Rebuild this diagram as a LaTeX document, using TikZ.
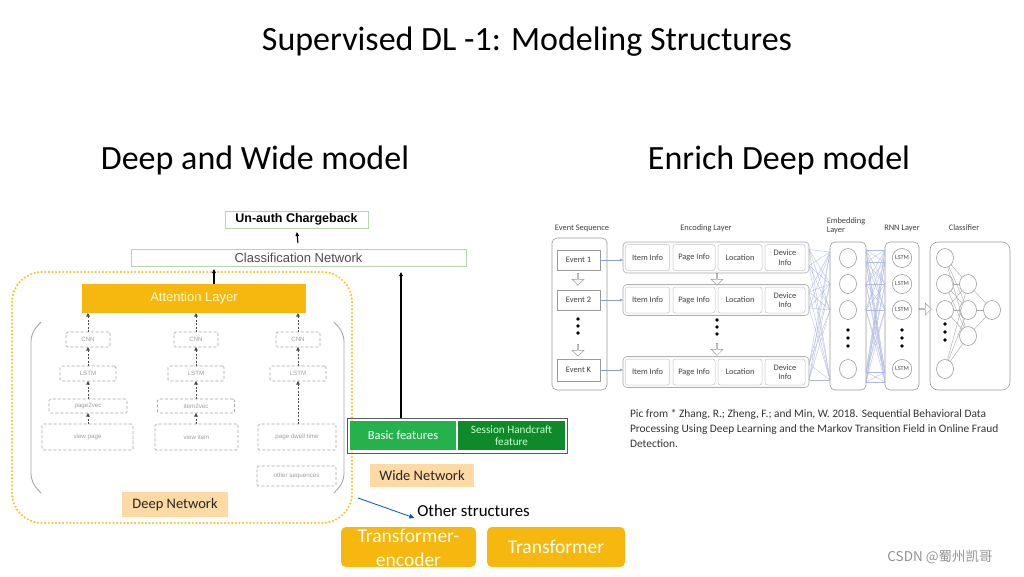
\documentclass[tikz,border=0pt]{standalone}
\usepackage{fontspec}
\setmainfont{Carlito}
\newfontfamily\arialish{Liberation Sans}
\newfontfamily\cjk{Noto Sans CJK SC}
\usetikzlibrary{arrows.meta,shapes.arrows,shapes.geometric,calc}
\definecolor{gold}{HTML}{F6B70F}
\definecolor{dotyel}{HTML}{F5C62A}
\definecolor{peach}{HTML}{FDD9A3}
\definecolor{lgreen}{HTML}{25B24C}
\definecolor{dgreen}{HTML}{0E8A2A}
\definecolor{boxgreen}{HTML}{B9D3AC}
\definecolor{netblue}{HTML}{8C9BD8}
\definecolor{rgray}{HTML}{9A9A9A}
\tikzset{
  fs/.style={font=\fontsize{#1}{#1}\selectfont},
  dbox/.style={draw=gray!70, dash pattern=on 3pt off 2pt, line width=0.7pt, rounded corners=1.5pt,
     font=\arialish\fontsize{6.2}{7}\selectfont, text=gray!75},
  darr/.style={draw=gray!60!black, dash pattern=on 2pt off 1.5pt, line width=0.7pt, -{Triangle[length=3.5pt,width=3.5pt]}},
  thickarr/.style={draw=black, line width=1.1pt, -{Triangle[length=4pt,width=3.5pt]}},
  lbl/.style={fill=peach, text=black!85, font=\fontsize{14.5}{15}\selectfont},
  tbox/.style={fill=gold, rounded corners=5pt, text=white!95!yellow, font=\fontsize{19.5}{24}\selectfont, align=center},
  ebox/.style={draw=rgray, line width=0.6pt, fill=white, font=\fontsize{8.4}{9}\selectfont, text=black!75, align=center},
  rowbox/.style={draw=rgray!80, line width=0.6pt, rounded corners=4pt, fill=gray!3},
  ibox/.style={draw=gray!45, line width=0.5pt, rounded corners=2.5pt, fill=white, font=\fontsize{8.4}{9.5}\selectfont, text=black!75, align=center, minimum height=26},
  colbox/.style={draw=rgray, line width=0.6pt, rounded corners=5pt},
  neuron/.style={ellipse, draw=rgray, line width=0.6pt, fill=white, minimum width=17, minimum height=19, font=\fontsize{6.2}{6.2}\selectfont, text=black!70},
  hdot/.style={circle, fill=black, minimum size=3.8},
  harrd/.style={single arrow, draw=rgray, fill=white, line width=0.5pt, minimum height=12, minimum width=12, single arrow head extend=2pt, shape border rotate=270},
  harrr/.style={single arrow, draw=rgray, fill=white, line width=0.5pt, minimum height=12, minimum width=12, single arrow head extend=2pt},
  web/.style={draw=netblue!70, line width=0.35pt},
  rlabel/.style={font=\fontsize{8.4}{9.5}\selectfont, text=black!75, align=center},
}
\begin{document}
\begin{tikzpicture}[x=1pt,y=-1pt, every node/.style={inner sep=0pt, outer sep=0pt}]
\useasboundingbox (0,0) rectangle (1024,576);
\fill[white] (0,0) rectangle (1024,576);

% Titles
\node[fs=34] (title) at (527,42) {Supervised DL -1: Modeling Structures};
\node[fs=34] (hl) at (255,160) {Deep and Wide model};
\node[fs=34] (hr) at (779,160) {Enrich Deep model};

% ===== Deep and Wide =====
\node[draw=boxgreen, line width=0.8pt, minimum width=143, minimum height=17, inner xsep=4pt, font=\arialish\bfseries\fontsize{12.5}{13}\selectfont] (ua) at (296.5,219.5) {Un-auth Chargeback};
\node[draw=boxgreen, line width=0.8pt, minimum width=335, minimum height=17, font=\arialish\fontsize{13}{13}\selectfont, text=black!70] (cls) at (298.5,257.5) {Classification Network};
\draw[thickarr, shorten <=6pt, shorten >=4pt] (cls.north) -- (ua.south);

% dotted frame
\draw[dotyel, line width=2.4pt, line cap=round, dash pattern=on 0pt off 3.6pt, rounded corners=30pt] (12,272) rectangle (352,523);

\node[fill=gold, minimum width=224, minimum height=29, font=\arialish\fontsize{13}{13}\selectfont, text=white!80!yellow] (att) at (194,298.5) {Attention Layer};
\coordinate (ax) at (214,0);
\draw[thickarr, shorten >=3pt] (att.north -| ax) -- (cls.south -| ax);

% brackets
\draw[gray!70, line width=0.9pt, rounded corners=8pt] (41,322) -- (31,333) -- (31,482) -- (41,493);
\draw[gray!70, line width=0.9pt, rounded corners=8pt] (334,322) -- (344,333) -- (344,482) -- (334,493);

% column 1
\node[dbox, minimum width=44, minimum height=15] (cnn1) at (88,339.5) {CNN};
\node[dbox, minimum width=56, minimum height=15] (lstm1) at (88,373.5) {LSTM};
\node[dbox, minimum width=78, minimum height=14] (p2v) at (88,406) {page2vec};
\node[dbox, minimum width=91, minimum height=26] (vp) at (87.5,437) {view page};
% column 2
\node[dbox, minimum width=44, minimum height=15] (cnn2) at (196,339.5) {CNN};
\node[dbox, minimum width=56, minimum height=15] (lstm2) at (196,373.5) {LSTM};
\node[dbox, minimum width=77, minimum height=14] (i2v) at (196,406) {item2vec};
\node[dbox, minimum width=83, minimum height=26] (vi) at (196.5,437) {view item};
% column 3
\node[dbox, minimum width=44, minimum height=15] (cnn3) at (298,339.5) {CNN};
\node[dbox, minimum width=56, minimum height=15] (lstm3) at (298,373.5) {LSTM};
\node[dbox, minimum width=78, minimum height=26] (pdt) at (297,437) {page dwell time};
\node[dbox, minimum width=79, minimum height=20] (os) at (296.5,476) {other sequences};

\draw[darr] (vp.north -| p2v.south) -- (p2v.south);
\draw[darr] (p2v.north) -- (lstm1.south);
\draw[darr] (lstm1.north) -- (cnn1.south);
\draw[darr] (cnn1.north) -- (att.south -| cnn1.north);
\draw[darr] (vi.north -| i2v.south) -- (i2v.south);
\draw[darr] (i2v.north) -- (lstm2.south);
\draw[darr] (lstm2.north) -- (cnn2.south);
\draw[darr] (cnn2.north) -- (att.south -| cnn2.north);
\draw[darr] (pdt.north -| lstm3.south) -- (lstm3.south);
\draw[darr] (lstm3.north) -- (cnn3.south);
\draw[darr] (cnn3.north) -- (att.south -| cnn3.north);

\node[lbl, minimum width=106, minimum height=25] (dn) at (175,504.5) {Deep Network};

% wide part
\node[draw=gray!70!black, line width=0.8pt, minimum width=220, minimum height=35] (wb) at (457,435.5) {};
\node[fill=lgreen, minimum width=106, minimum height=29, text=white, font=\fontsize{12.5}{13}\selectfont] (bf) at (403,435.5) {Basic features};
\node[fill=dgreen, minimum width=107, minimum height=29, text=white!80!green, font=\fontsize{11.2}{11.5}\selectfont, align=center] (sh) at (511.5,435.5) {Session Handcraft\\feature};
\coordinate (wx) at (401,0);
\draw[thickarr, shorten >=6pt] (wb.north -| wx) -- (cls.south -| wx);

\node[lbl, minimum width=104, minimum height=23] (wn) at (422,475.5) {Wide Network};

\node[font=\fontsize{16.8}{17}\selectfont] (ot) at (473.5,511) {Other structures};
\coordinate (bs) at (358,498);
\draw[draw=blue!60!cyan!80!black, line width=0.8pt, -{Triangle[length=5pt,width=4.5pt]}] (bs) -- ($(ot.south west)+(-3,1)$);

\node[tbox, minimum width=135, minimum height=40] (te) at (408.5,547) {};
\node[text=white!95!yellow, font=\fontsize{19.5}{24}\selectfont, align=center] (tet) at (408.5,548) {Transformer-\\encoder};
\node[tbox, minimum width=138, minimum height=40] (tr) at (556,547) {Transformer};

% ===== Enrich Deep =====
\node[rlabel] (les) at (582,228) {Event Sequence};
\node[rlabel] (lel) at (706,228) {Encoding Layer};
\node[rlabel, align=left] (lem) at (846,226) {Embedding\\Layer};
\node[rlabel] (lrn) at (902,228) {RNN Layer};
\node[rlabel] (lcl) at (964,228) {Classifier};

\node[colbox, minimum width=55, minimum height=152] (es) at (579.5,314) {};
\node[ebox, minimum width=43, minimum height=20] (e1) at (578.5,260) {Event 1};
\node[ebox, minimum width=43, minimum height=20] (e2) at (578.5,300) {Event 2};
\node[ebox, minimum width=43, minimum height=22] (ek) at (578.5,370) {Event K};
\node[harrd] (ha1) at (578,279) {};
\node[hdot] (d1) at (578,319) {};
\node[hdot] (d2) at (578,326) {};
\node[hdot] (d3) at (578,333) {};
\node[harrd] (ha2) at (578,350) {};

% encoding rows
\foreach \r/\y in {1/257.5, 2/300, 3/372}{
  \node[rowbox, minimum width=186, minimum height=31] (row\r) at (716,\y) {};
  \node[ibox, minimum width=44] (it\r) at (647.5,\y) {Item Info};
  \node[ibox, minimum width=42] (pg\r) at (694,\y) {Page Info};
  \node[ibox, minimum width=44] (lo\r) at (740,\y) {Location};
  \node[ibox, minimum width=40] (dv\r) at (785,\y) {Device\\Info};
}
\node[harrd] (hb1) at (717,279) {};
\node[hdot] (f1) at (717,320) {};
\node[hdot] (f2) at (717,327) {};
\node[hdot] (f3) at (717,334) {};
\node[harrd] (hb2) at (717,349) {};

\foreach \e/\r in {e1/row1, e2/row2, ek/row3}{
  \draw[draw=netblue, line width=0.5pt, -{Triangle[length=3pt,width=2.5pt]}] (\e.east) -- (\e.east -| \r.west);
}

% embedding layer
\node[colbox, minimum width=36, minimum height=148] (emb) at (848,316) {};
\foreach \i/\y in {1/258, 2/284, 3/310, 4/369}{
  \node[neuron] (em\i) at (848,\y) {};
}
\node[hdot] (g1) at (848,330) {};
\node[hdot] (g2) at (848,338) {};
\node[hdot] (g3) at (848,346) {};

% RNN layer
\node[colbox, minimum width=34, minimum height=148] (rnn) at (902,316) {};
\foreach \i/\y in {1/258, 2/284, 3/310, 4/369}{
  \node[neuron, minimum width=17, minimum height=19] (ls\i) at (902,\y) {LSTM};
}
\node[hdot] (h1) at (902,330) {};
\node[hdot] (h2) at (902,338) {};
\node[hdot] (h3) at (902,346) {};

% classifier
\node[colbox, rounded corners=8pt, minimum width=80, minimum height=148] (clf) at (970,316) {};
\foreach \i/\y in {1/258, 2/284, 3/310, 4/369}{
  \node[neuron] (ca\i) at (945,\y) {};
}
\foreach \i/\y in {1/284, 2/310, 3/336}{
  \node[neuron] (cb\i) at (968,\y) {};
}
\node[neuron] (cc) at (992,310) {};
\node[hdot] (k1) at (945,324) {};
\node[hdot] (k2) at (945,332) {};
\node[hdot] (k3) at (945,340) {};
\foreach \i in {1,2,3,4}{\foreach \j in {1,2,3}{\draw[draw=gray!70, line width=0.4pt] (ca\i) -- (cb\j);}}
\foreach \j in {1,2,3}{\draw[draw=gray!70, line width=0.4pt] (cb\j) -- (cc);}

\node[harrr] (hc) at (925,309) {};

% web: encoding rows -> embedding
\foreach \r in {1,2,3}{
  \foreach \dy in {-8,8}{
    \foreach \t/\ty in {1/252,2/284,3/310,4/380}{
      \coordinate (wa) at ($(row\r.east)+(0,\dy)$);
      \coordinate (wt) at (emb.west |- 0,\ty);
      \draw[web] (wa) -- (wt);
    }
  }
}
% web: embedding -> rnn
\foreach \a in {250,262,284,310,372,382}{
  \foreach \b in {250,262,284,310,372,382}{
    \coordinate (wa) at (emb.east |- 0,\a);
    \coordinate (wt) at (rnn.west |- 0,\b);
    \draw[web] (wa) -- (wt);
  }
}

% citation
\node[anchor=north west, align=left, font=\fontsize{11.4}{15}\selectfont, text=black!80] (cite) at (630,409)
{Pic from * Zhang, R.; Zheng, F.; and Min, W. 2018. Sequential Behavioral Data\\
Processing Using Deep Learning and the Markov Transition Field in Online Fraud\\
Detection.};

% watermark
\node[font=\cjk\fontsize{13.5}{13.5}\selectfont, text=gray!85] (wm) at (940,557) {CSDN @蜀州凯哥};
\end{tikzpicture}
\end{document}
